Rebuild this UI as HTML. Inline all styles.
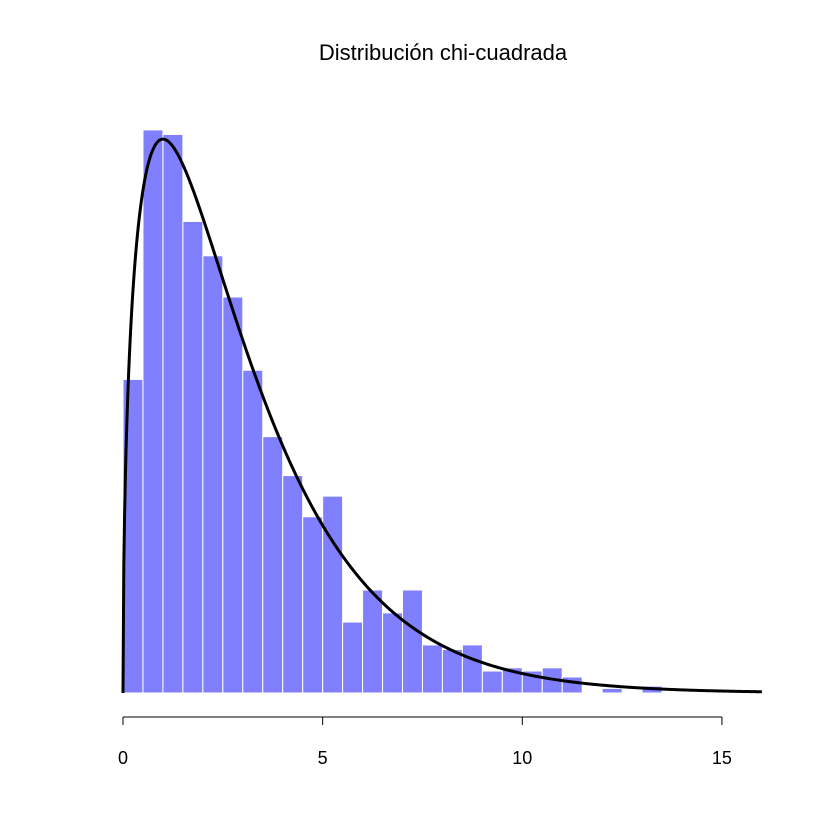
<!DOCTYPE html>
<html><head><meta charset="utf-8"><style>
html,body{margin:0;padding:0;background:#fff;}
svg{display:block;font-family:"Liberation Sans",Arial,sans-serif;}
</style></head><body>
<svg id="chart" width="840" height="840" viewBox="0 0 840 840" xmlns="http://www.w3.org/2000/svg">
<rect width="840" height="840" fill="#fff"/>
<text x="443" y="60" font-size="22" text-anchor="middle" fill="#000">Distribución chi-cuadrada</text>
<g id="bars"></g>
<path id="curve" fill="none" stroke="#000" stroke-width="3"/>
<g id="axis"></g>
</svg>
<script>
const binStarts = [0,0.5,1,1.5,2,2.5,3,3.5,4,4.5,5,5.5,6,6.5,7,7.5,8,8.5,9,9.5,10,10.5,11,11.5,12,12.5,13];
const densities = [0.137,0.246,0.244,0.206,0.191,0.173,0.141,0.112,0.095,0.077,0.086,0.031,0.045,0.035,0.045,0.021,0.019,0.021,0.0096,0.011,0.0096,0.011,0.007,0,0.002,0,0.003];
const binWidth = 0.5;
const xTicks = [0,5,10,15];
const dfParam = 3;
const curveMax = 16;

const NS = "http://www.w3.org/2000/svg";
const xs = v => 123 + v * 39.93;
const ys = d => 693 - d * 2289;

const bars = document.getElementById('bars');
binStarts.forEach((b, i) => {
  const h = densities[i];
  if (h <= 0) return;
  const r = document.createElementNS(NS, 'rect');
  r.setAttribute('x', xs(b));
  r.setAttribute('y', ys(h));
  r.setAttribute('width', xs(b + binWidth) - xs(b));
  r.setAttribute('height', ys(0) - ys(h));
  r.setAttribute('fill', '#8080ff');
  r.setAttribute('stroke', '#fff');
  r.setAttribute('stroke-width', '1');
  
  
  bars.appendChild(r);
});

function gammaHalf(k){
  if (k === 1) return Math.sqrt(Math.PI);
  if (k === 2) return 1;
  return (k/2 - 1) * gammaHalf(k - 2);
}
function chisq(x, k){
  if (x <= 0) return 0;
  return Math.pow(x, k/2 - 1) * Math.exp(-x/2) / (Math.pow(2, k/2) * gammaHalf(k));
}
let d = '';
for (let i = 0; i <= 800; i++) {
  const x = curveMax * i / 800;
  d += (i ? 'L' : 'M') + xs(x).toFixed(2) + ',' + ys(chisq(x, dfParam)).toFixed(2);
}
document.getElementById('curve').setAttribute('d', d);

const axis = document.getElementById('axis');
const line = document.createElementNS(NS, 'line');
line.setAttribute('x1', xs(xTicks[0])); line.setAttribute('x2', xs(xTicks[xTicks.length-1]));
line.setAttribute('y1', 717); line.setAttribute('y2', 717);
line.setAttribute('stroke', '#000');


axis.appendChild(line);
xTicks.forEach(t => {
  const tk = document.createElementNS(NS, 'line');
  tk.setAttribute('x1', xs(t)); tk.setAttribute('x2', xs(t));
  tk.setAttribute('y1', 717); tk.setAttribute('y2', 725);
  tk.setAttribute('stroke', '#000');
  
  
  axis.appendChild(tk);
  const tx = document.createElementNS(NS, 'text');
  tx.setAttribute('x', xs(t)); tx.setAttribute('y', 764);
  tx.setAttribute('font-size', '18'); tx.setAttribute('text-anchor', 'middle');
  tx.textContent = t;
  
  
  axis.appendChild(tx);
});
</script>
</body></html>
